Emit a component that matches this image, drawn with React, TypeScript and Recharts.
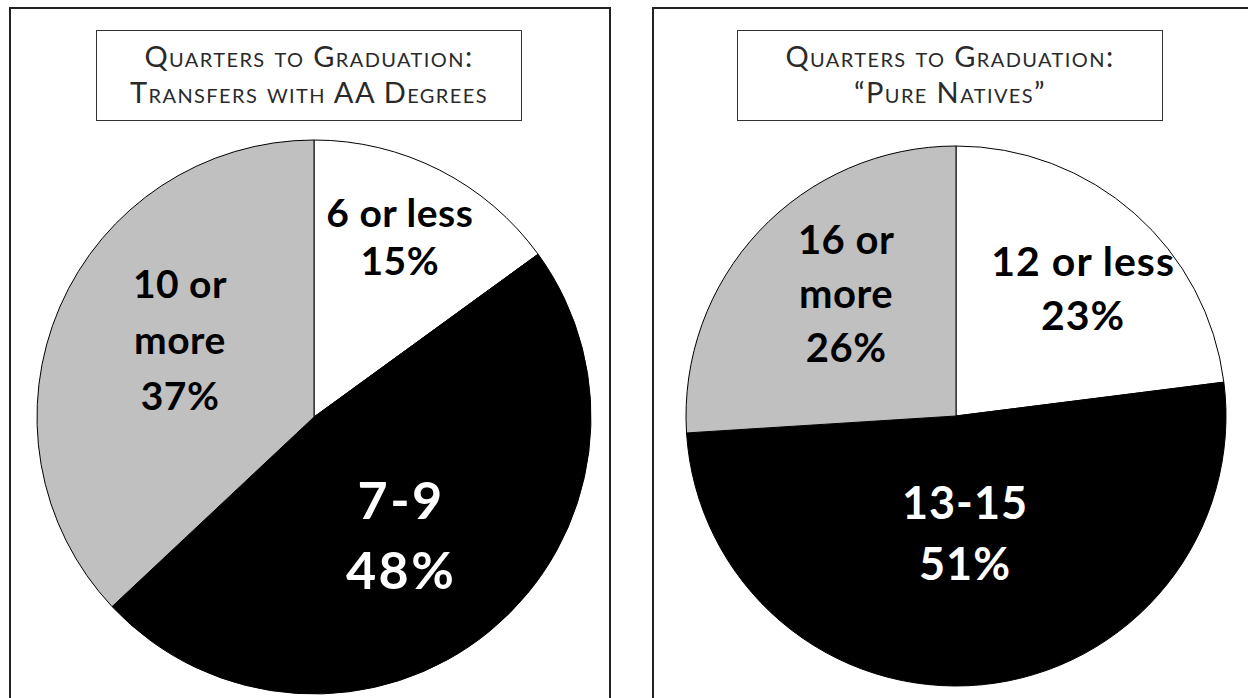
import React from 'react';
import { PieChart, Pie, Cell } from 'recharts';

// Quarters to graduation: share of students per bucket
const transferBuckets = ['6 or less', '7-9', '10 or\nmore'];
const transferShares = [15, 48, 37];

const nativeBuckets = ['12 or less', '13-15', '16 or\nmore'];
const nativeShares = [23, 51, 26];

const transferTitle = ['Quarters to Graduation:', 'Transfers with AA Degrees'];
const nativeTitle = ['Quarters to Graduation:', '\u201cPure Natives\u201d'];

const sliceFills = ['#ffffff', '#000000', '#c0c0c0'];
const labelInk = ['#000000', '#ffffff', '#000000'];

type Spot = { r: number; turn: number; size: number; lh: number; track: number };

// where each slice label sits: fraction of radius, clockwise nudge off the mid angle (deg),
// font size, line step and letter spacing
const transferSpots: Spot[] = [
  { r: 0.72, turn: -1.5, size: 39, lh: 48, track: 0.5 },
  { r: 0.53, turn: 3.2, size: 52, lh: 70, track: 2.5 },
  { r: 0.558, turn: 6.5, size: 39, lh: 56, track: 0.5 },
];
const nativeSpots: Spot[] = [
  { r: 0.667, turn: 3.5, size: 41, lh: 54, track: 1 },
  { r: 0.435, turn: 1, size: 45, lh: 61, track: 1 },
  { r: 0.608, turn: 4.8, size: 40, lh: 54, track: 0.5 },
];

const RAD = Math.PI / 180;

const toRows = (names: string[], shares: number[]) =>
  names.map((name, i) => ({ name, value: shares[i] }));

const makeLabel = (spots: Spot[]) => (props: any) => {
  const { cx, cy, midAngle, outerRadius, index, payload } = props;
  const spot = spots[index];
  const ang = (midAngle - spot.turn) * RAD;
  const x = cx + outerRadius * spot.r * Math.cos(ang);
  const y = cy - outerRadius * spot.r * Math.sin(ang);
  const lines: string[] = [...String(payload.name).split('\n'), `${payload.value}%`];
  const first = y - ((lines.length - 1) * spot.lh) / 2;
  return (
    <text
      textAnchor="middle"
      fill={labelInk[index]}
      fontFamily="Lato, 'Open Sans', sans-serif"
      fontWeight={700}
      fontSize={spot.size}
    >
      {lines.map((line, i) => (
        <tspan
          key={i}
          x={x}
          y={first + i * spot.lh + spot.size * 0.358}
          letterSpacing={spot.track}
        >
          {line}
        </tspan>
      ))}
    </text>
  );
};

const TitleBox = ({ left, lines }: { left: number; lines: string[] }) => (
  <div
    style={{
      position: 'absolute',
      left,
      top: 30,
      width: 424,
      height: 89,
      border: '1.5px solid #333',
      background: '#fff',
      boxSizing: 'content-box',
      fontFamily: "Lato, 'Open Sans', sans-serif",
      fontVariant: 'small-caps',
      fontWeight: 400,
      fontSize: 29,
      letterSpacing: 1.4,
      lineHeight: '36px',
      color: '#2a2a2a',
      textAlign: 'center',
      display: 'flex',
      flexDirection: 'column',
      justifyContent: 'center',
      zIndex: 2,
    }}
  >
    <div style={{ marginTop: -4 }}>
      {lines.map((t) => (
        <div key={t}>{t}</div>
      ))}
    </div>
  </div>
);

const panelStyle = (left: number, width: number): React.CSSProperties => ({
  position: 'absolute',
  left,
  top: 7,
  width,
  height: 720,
  border: '2px solid #222',
  boxSizing: 'border-box',
});

export default function App() {
  const transferRows = toRows(transferBuckets, transferShares);
  const nativeRows = toRows(nativeBuckets, nativeShares);

  return (
    <div
      style={{
        position: 'absolute',
        left: 0,
        top: 0,
        width: 1248,
        height: 698,
        overflow: 'hidden',
        background: '#fff',
      }}
    >
      <div style={panelStyle(9, 602)} />
      <div style={panelStyle(652, 700)} />
      <TitleBox left={96} lines={transferTitle} />
      <TitleBox left={737} lines={nativeTitle} />
      <div style={{ position: 'absolute', left: 0, top: 0, zIndex: 1 }}>
        <PieChart width={1248} height={698}>
          <Pie
            data={transferRows}
            dataKey="value"
            nameKey="name"
            cx={309}
            cy={412}
            outerRadius={277}
            startAngle={90}
            endAngle={-270}
            stroke="#000"
            strokeWidth={1}
            labelLine={false}
            label={makeLabel(transferSpots)}
            isAnimationActive={false}
          >
            {transferRows.map((row, i) => (
              <Cell key={row.name} fill={sliceFills[i]} />
            ))}
          </Pie>
          <Pie
            data={nativeRows}
            dataKey="value"
            nameKey="name"
            cx={951}
            cy={411}
            outerRadius={270}
            startAngle={90}
            endAngle={-270}
            stroke="#000"
            strokeWidth={1}
            labelLine={false}
            label={makeLabel(nativeSpots)}
            isAnimationActive={false}
          >
            {nativeRows.map((row, i) => (
              <Cell key={row.name} fill={sliceFills[i]} />
            ))}
          </Pie>
        </PieChart>
      </div>
    </div>
  );
}
